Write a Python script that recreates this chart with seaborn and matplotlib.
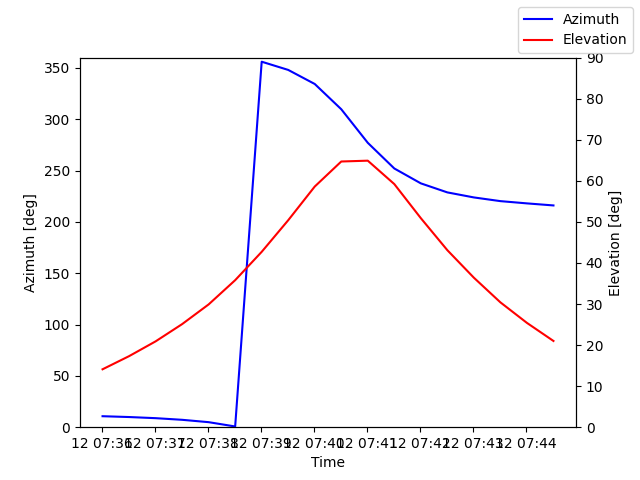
import numpy as np
import pandas as pd
import seaborn as sns
import matplotlib.pyplot as plt

# pass samples, every 30 s
times = pd.date_range("2024-01-12 07:36:01", periods=18, freq="30s")
azimuth = [10.7, 9.9, 8.8, 7.2, 4.9, 0.7, 356.0, 348.0, 334.3, 309.7,
           277.0, 252.0, 237.5, 228.7, 223.8, 220.2, 218.0, 216.0]
elevation = [14.1, 17.3, 20.9, 25.1, 29.9, 35.8, 42.7, 50.4, 58.6, 64.7,
             64.9, 59.2, 50.9, 43.1, 36.4, 30.4, 25.4, 21.0]

df = pd.DataFrame({"Time": times, "Azimuth": azimuth, "Elevation": elevation})

fig, ax = plt.subplots(figsize=(6.4, 4.8), dpi=100)
sns.lineplot(data=df, x="Time", y="Azimuth", color="blue", label="Azimuth",
             ax=ax, legend=False)
ax.set_ylim(0, 360)
ax.set_ylabel("Azimuth [deg]")
ax.set_xlabel("Time")

ax2 = ax.twinx()
sns.lineplot(data=df, x="Time", y="Elevation", color="red", label="Elevation",
             ax=ax2, legend=False)
ax2.set_ylim(0, 90)
ax2.set_ylabel("Elevation [deg]")

fig.legend(loc="upper right")
fig.savefig("out.png")
